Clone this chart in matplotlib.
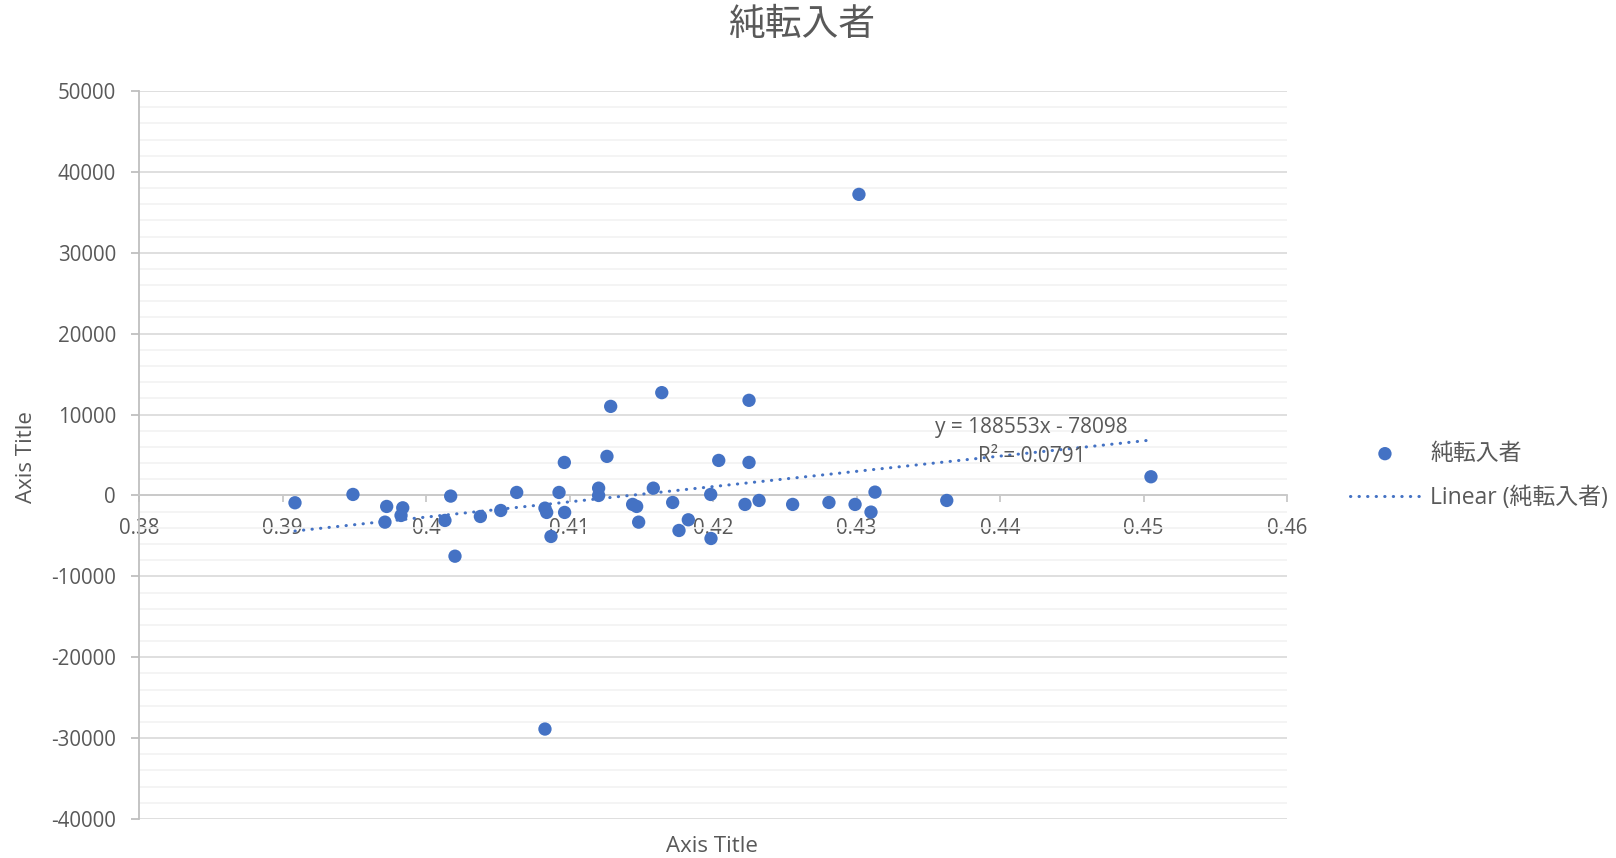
import matplotlib
matplotlib.use("Agg")
import matplotlib.pyplot as plt
import numpy as np
from matplotlib.ticker import MultipleLocator, FuncFormatter

plt.rcParams['font.family'] = ['Open Sans', 'Noto Sans CJK JP', 'DejaVu Sans']

# ---------------------------------- DATA ---------------------------------- #
ratio = [0.39087, 0.39491, 0.39726, 0.39714, 0.39838, 0.39826, 0.40132, 0.40172,
         0.40202, 0.40379, 0.40521, 0.40632, 0.40829, 0.40841, 0.40871, 0.40829,
         0.40927, 0.40964, 0.40966, 0.41203, 0.41203, 0.41261, 0.41287, 0.41440,
         0.41468, 0.41482, 0.41584, 0.41643, 0.41719, 0.41763, 0.41828, 0.41984,
         0.41986, 0.42040, 0.42223, 0.42251, 0.42251, 0.42321, 0.42555, 0.42808,
         0.43017, 0.42990, 0.43101, 0.43129, 0.43629, 0.45052]
net_in = [-905, 124, -1360, -3300, -1530, -2475, -3090, -80,
          -7510, -2600, -1860, 370, -1570, -2100, -5070, -28880,
          370, 4080, -2100, 900, 0, 4830, 11010, -1110,
          -1360, -3300, 900, 12710, -870, -4330, -3010, 124,
          -5320, 4330, -1110, 11760, 4080, -620, -1110, -870,
          37220, -1110, -2060, 410, -620, 2310]

slope = 188553
intercept = -78098
r2 = 0.0791

series_name = "純転入者"
gray = '#595959'
blue = '#4472C4'

# ---------------------------------- PLOT ---------------------------------- #
fig = plt.figure(figsize=(16.16, 8.58), dpi=100)
ax = fig.add_axes([139 / 1616, 1 - 819 / 858, 1148 / 1616, 728 / 858])

sc = ax.scatter(ratio, net_in, s=92, color=blue, edgecolors='none', zorder=3,
                label=series_name)
tx = np.array([min(ratio), max(ratio)])
ln, = ax.plot(tx, slope * tx + intercept, color=blue, lw=2.2,
              linestyle=(0, (0.1, 2.7)), dash_capstyle='round', zorder=3,
              label="Linear (" + series_name + ")")

ax.set_xlim(0.38, 0.46)
ax.set_ylim(-40000, 50000)
ax.xaxis.set_major_locator(MultipleLocator(0.01))
ax.yaxis.set_major_locator(MultipleLocator(10000))
ax.yaxis.set_minor_locator(MultipleLocator(2000))
ax.xaxis.set_major_formatter(FuncFormatter(lambda v, p: f"{round(v, 2):g}"))
ax.yaxis.set_major_formatter(FuncFormatter(lambda v, p: f"{int(round(v))}"))

ax.set_axisbelow(True)
ax.grid(which='major', axis='y', color='#d9d9d9', lw=1.2)
ax.grid(which='minor', axis='y', color='#f2f2f2', lw=1.2)

for s in ['top', 'right']:
    ax.spines[s].set_visible(False)
ax.spines['bottom'].set_position(('data', 0))
ax.spines['bottom'].set_color('#c8c8c8')
ax.spines['bottom'].set_linewidth(1.3)
ax.spines['left'].set_color('#bfbfbf')
ax.spines['left'].set_linewidth(1.3)

ax.tick_params(axis='x', which='major', direction='out', length=5, width=1.3,
               color='#c8c8c8', labelcolor=gray, labelsize=14.8, pad=11.5)
ax.tick_params(axis='y', which='major', direction='out', length=5.5, width=1.3,
               color='#bfbfbf', labelcolor=gray, labelsize=14.8, pad=11)
ax.tick_params(which='minor', length=0)

# trendline label
ax.text(0.4422, 8450, f"y = {slope}x - {abs(intercept)}", ha='center',
        va='center', fontsize=15, color=gray)
ax.text(0.4422, 4830, f"R² = {r2}", ha='center', va='center', fontsize=15,
        color=gray)

fig.text(0.496, 1 - 25.5 / 858, series_name, ha='center', va='center',
         fontsize=26.5, color=gray)
fig.text(712 / 1616, 1 - 846 / 858, "Axis Title", ha='center', va='center',
         fontsize=16, color=gray)
fig.text(26.7 / 1616, 1 - 456.7 / 858, "Axis Title", ha='center', va='center',
         fontsize=16, color=gray, rotation=90)

ax.legend(handles=[sc, ln], loc='center left',
          bbox_to_anchor=(1350 / 1616, 1 - 476 / 858),
          bbox_transform=fig.transFigure, frameon=False, fontsize=16.5,
          labelcolor=gray, handlelength=3.05, handletextpad=0.45,
          labelspacing=0.9, borderpad=0, borderaxespad=0, scatterpoints=1)

fig.savefig('out.png', dpi=100)
